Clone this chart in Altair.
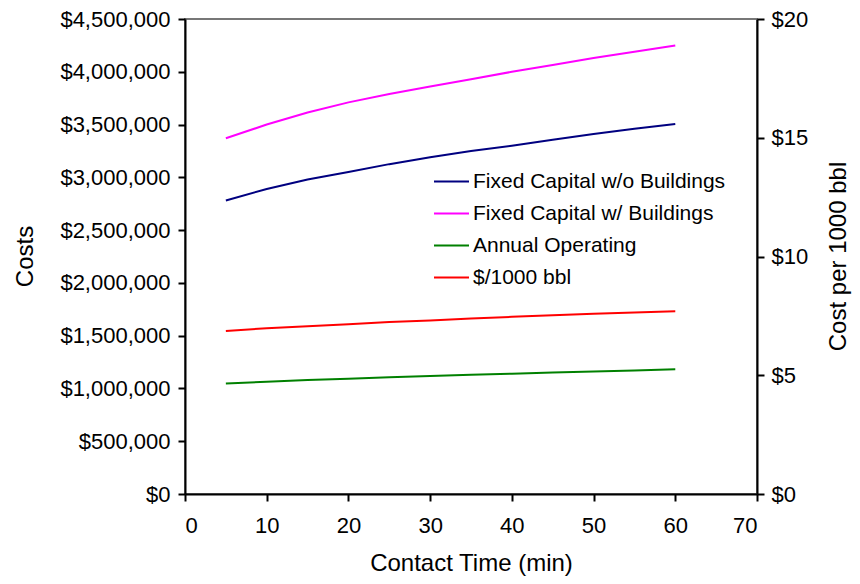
import altair as alt
import pandas as pd

minutes = [5, 10, 15, 20, 25, 30, 35, 40, 45, 50, 55, 60]
fixed_wo_buildings = [2780000, 2890000, 2980000, 3050000, 3125000, 3190000, 3250000, 3300000, 3355000, 3410000, 3460000, 3505000]
fixed_w_buildings = [3370000, 3500000, 3615000, 3710000, 3790000, 3860000, 3930000, 4000000, 4065000, 4130000, 4190000, 4250000]
annual_operating = [1048000, 1064000, 1080000, 1093000, 1105000, 1117000, 1130000, 1140000, 1150000, 1160000, 1171000, 1181000]
per_1000_bbl = [6.86, 6.98, 7.06, 7.15, 7.24, 7.31, 7.39, 7.46, 7.53, 7.59, 7.64, 7.69]

series_names = ["Fixed Capital w/o Buildings", "Fixed Capital w/ Buildings", "Annual Operating", "$/1000 bbl"]
series_colors = ["#000080", "#FF00FF", "#008000", "#FF0000"]

x_ticks = [0, 10, 20, 30, 40, 50, 60, 70]
left_ticks = [0, 500000, 1000000, 1500000, 2000000, 2500000, 3000000, 3500000, 4000000, 4500000]
right_ticks = [0, 5, 10, 15, 20]

rows = []
for name, vals in zip(series_names[:3], [fixed_wo_buildings, fixed_w_buildings, annual_operating]):
    for m, v in zip(minutes, vals):
        rows.append({"minutes": m, "value": v, "series": name})
cost_df = pd.DataFrame(rows)
bbl_df = pd.DataFrame({"minutes": minutes, "value": per_1000_bbl, "series": series_names[3]})

FONT = "Liberation Sans"

color = alt.Color(
    "series:N",
    sort=series_names,
    scale=alt.Scale(domain=series_names, range=series_colors),
    legend=alt.Legend(
        title=None,
        orient="none",
        legendX=248,
        legendY=144,
        symbolType="stroke",
        symbolSize=1225,
        symbolStrokeWidth=2,
        labelFontSize=21,
        labelFont=FONT,
        labelColor="black",
        labelOffset=3,
        rowPadding=3,
        padding=0,
        labelLimit=400,
    ),
)

x_enc = alt.X(
    "minutes:Q",
    scale=alt.Scale(domain=[0, 70], nice=False),
    axis=alt.Axis(
        values=x_ticks,
        title="Contact Time (min)",
        grid=False,
        labelFontSize=22,
        titleFontSize=24,
        labelPadding=14,
        titleX=286,
        titleY=69,
        titleBaseline="middle",
    ),
)

left = alt.Chart(cost_df).mark_line(strokeWidth=2).encode(
    x=x_enc,
    y=alt.Y(
        "value:Q",
        scale=alt.Scale(domain=[0, 4500000], nice=False),
        axis=alt.Axis(
            orient="left",
            values=left_ticks,
            format="$,.0f",
            title="Costs",
            grid=False,
            labelFontSize=22,
            titleFontSize=24,
            labelPadding=8,
            titleAngle=270,
            titleX=-160,
            titleY=237,
            titleBaseline="middle",
        ),
    ),
    color=color,
)

right = alt.Chart(bbl_df).mark_line(strokeWidth=2).encode(
    x=x_enc,
    y=alt.Y(
        "value:Q",
        scale=alt.Scale(domain=[0, 20], nice=False),
        axis=alt.Axis(
            orient="right",
            values=right_ticks,
            format="$,.0f",
            title="Cost per 1000 bbl",
            titleAngle=270,
            titleX=81,
            titleY=237,
            titleBaseline="middle",
            grid=False,
            labelFontSize=22,
            titleFontSize=24,
            labelPadding=7,
        ),
    ),
    color=color,
)

chart = (
    alt.layer(left, right)
    .resolve_scale(y="independent")
    .properties(
        width=572,
        height=475,
        autosize=alt.AutoSizeParams(type="none"),
        padding={"left": 177, "top": 11, "right": 95, "bottom": 82},
    )
    .configure(font=FONT)
    .configure_axis(
        domainColor="black",
        domainWidth=2,
        tickColor="black",
        tickWidth=2,
        tickSize=7,
        labelColor="black",
        titleColor="black",
        labelFont=FONT,
        titleFont=FONT,
        titleFontWeight="normal",
    )
    .configure_view(stroke="#777777", strokeWidth=2)
)

chart.save("out.html", embed_options={"renderer": "svg", "actions": False})
